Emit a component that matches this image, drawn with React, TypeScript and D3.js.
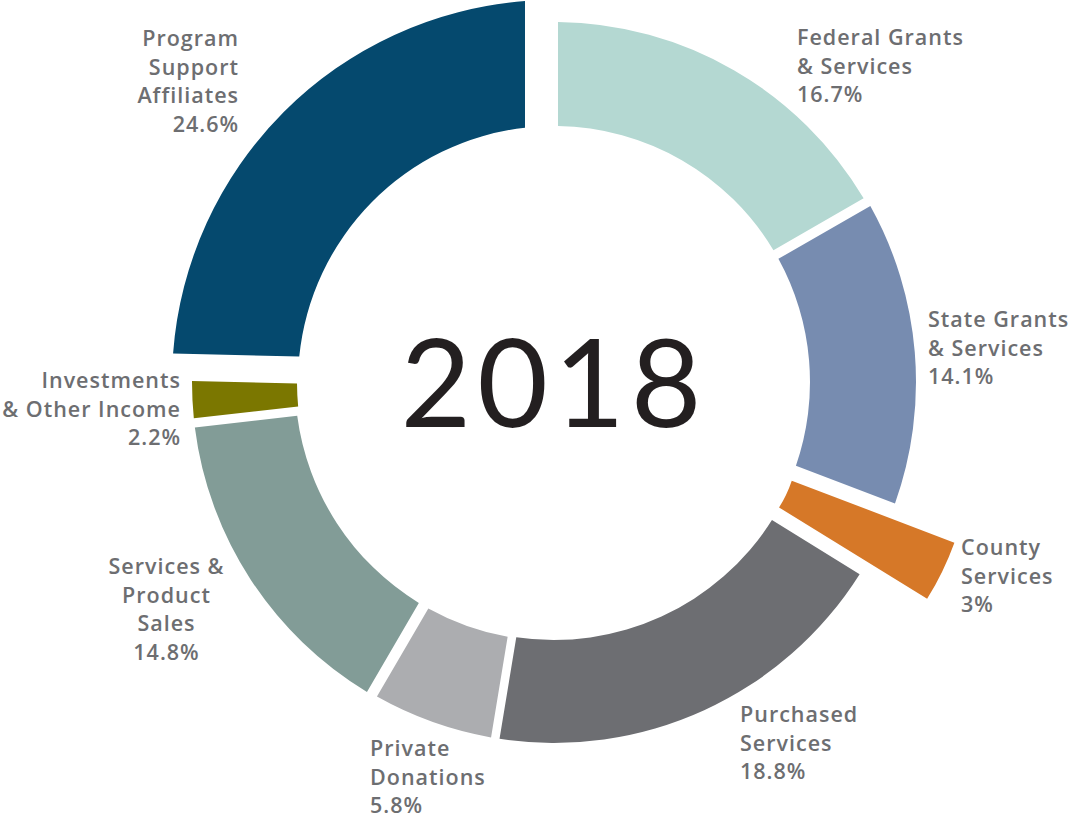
import React, { useEffect, useRef } from 'react';
import * as d3 from 'd3';

// funding sources, clockwise from 12 o'clock
const categories = [
  'Federal Grants & Services',
  'State Grants & Services',
  'County Services',
  'Purchased Services',
  'Private Donations',
  'Services & Product Sales',
  'Investments & Other Income',
  'Program Support Affiliates',
];
const shares = [16.7, 14.1, 3, 18.8, 5.8, 14.8, 2.2, 24.6];
const labelLines = [
  ['Federal Grants', '& Services'],
  ['State Grants', '& Services'],
  ['County', 'Services'],
  ['Purchased', 'Services'],
  ['Private', 'Donations'],
  ['Services &', 'Product', 'Sales'],
  ['Investments', '& Other Income'],
  ['Program', 'Support', 'Affiliates'],
];
const shareLabels = ['16.7%', '14.1%', '3%', '18.8%', '5.8%', '14.8%', '2.2%', '24.6%'];
const yearLabel = '2018';

// styling per slice (same order as categories)
const colors = ['#b4d8d2', '#778cb0', '#d67828', '#6d6e72', '#acadb0', '#829c97', '#7b7700', '#05496e'];
const inner = [256, 256, 126, 258, 259, 259, 257, 256];
const outer = [360, 362, 300, 361, 361, 362, 362, 382];
const explode = [0, 0, 132, 0, 0, 0, 0, 0];
const padStart = [4, 5, -5, 3, 4.3, 5.5, 4.6, 19];
const padEnd = [5, 8, -1, 4.3, 5.5, 4.6, 8, 29];
const labelPos = [
  { x: 797, y: 45, anchor: 'start' },
  { x: 928, y: 327, anchor: 'start' },
  { x: 961, y: 555, anchor: 'start' },
  { x: 740, y: 722, anchor: 'start' },
  { x: 370, y: 756, anchor: 'start' },
  { x: 166, y: 574, anchor: 'middle' },
  { x: 180, y: 388, anchor: 'end' },
  { x: 238, y: 46, anchor: 'end' },
];

const width = 1070;
const height = 819;
const cx = 554;
const cy = 382;
const lineGap = 28.7;
const spacing = 1;

// ring segment with straight, parallel-offset edges (pad in px per side)
function slicePath(a0, a1, r0, r1, h0, h1) {
  const p = d3.path();
  const s1 = a0 + Math.asin(h0 / r1);
  const e1 = a1 - Math.asin(h1 / r1);
  const s0 = a0 + Math.asin(h0 / r0);
  const e0 = a1 - Math.asin(h1 / r0);
  const q = Math.PI / 2;
  p.moveTo(r1 * Math.sin(s1), -r1 * Math.cos(s1));
  p.arc(0, 0, r1, s1 - q, e1 - q, false);
  p.lineTo(r0 * Math.sin(e0), -r0 * Math.cos(e0));
  p.arc(0, 0, r0, e0 - q, s0 - q, true);
  p.closePath();
  return p.toString();
}

const App = () => {
  const svgRef = useRef(null);

  useEffect(() => {
    const svg = d3.select(svgRef.current);
    svg.selectAll('*').remove();

    const pie = d3.pie().sort(null).value((d) => d.value);
    const arcs = pie(categories.map((c, i) => ({ name: c, value: shares[i], i })));

    const ring = svg.append('g').attr('transform', `translate(${cx},${cy})`);

    ring
      .selectAll('path')
      .data(arcs)
      .join('path')
      .attr('transform', (d) => {
        const mid = (d.startAngle + d.endAngle) / 2;
        const k = explode[d.data.i];
        return `translate(${k * Math.sin(mid)},${-k * Math.cos(mid)})`;
      })
      .attr('d', (d) => {
        const i = d.data.i;
        return slicePath(d.startAngle, d.endAngle, inner[i], outer[i], padStart[i], padEnd[i]);
      })
      .attr('fill', (d) => colors[d.data.i]);

    // labels; trailing letter-spacing is offset so end/middle anchors stay put
    const shift = (a) => (a === 'end' ? spacing : a === 'middle' ? spacing / 2 : 0);
    const labels = svg
      .append('g')
      .attr('font-family', '"Open Sans", sans-serif')
      .attr('font-weight', 600)
      .attr('font-size', 21.5)
      .attr('letter-spacing', spacing)
      .attr('fill', '#6d6e71')
      .selectAll('text')
      .data(arcs)
      .join('text')
      .attr('y', (d) => labelPos[d.data.i].y)
      .attr('text-anchor', (d) => labelPos[d.data.i].anchor);

    labels
      .selectAll('tspan')
      .data((d) => {
        const pos = labelPos[d.data.i];
        return [...labelLines[d.data.i], shareLabels[d.data.i]].map((t) => ({ t, x: pos.x + shift(pos.anchor) }));
      })
      .join('tspan')
      .attr('x', (d) => d.x)
      .attr('dy', (d, j) => (j === 0 ? 0 : lineGap))
      .text((d) => d.t);

    svg
      .append('text')
      .attr('x', 554)
      .attr('y', 427)
      .attr('text-anchor', 'middle')
      .attr('font-family', 'Lato, sans-serif')
      .attr('font-weight', 400)
      .attr('font-size', 122)
      .attr('letter-spacing', 6)
      .attr('fill', '#231f20')
      .text(yearLabel);
  }, []);

  return (
    <svg
      ref={svgRef}
      width={width}
      height={height}
      style={{ position: 'absolute', left: 0, top: 0, background: '#fff' }}
    />
  );
};

export default App;
